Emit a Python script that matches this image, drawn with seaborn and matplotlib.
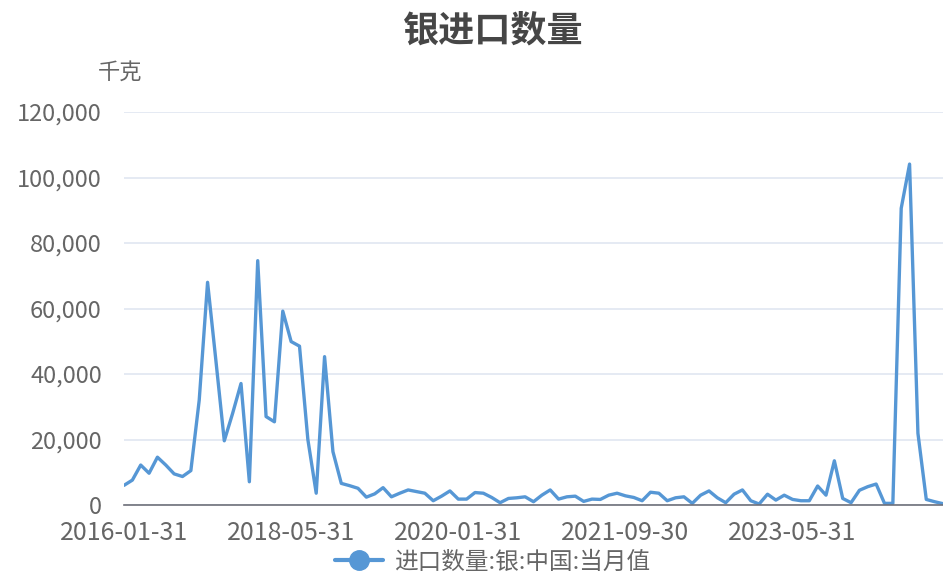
import matplotlib
matplotlib.use("Agg")
import matplotlib.pyplot as plt
import seaborn as sns
import pandas as pd
import numpy as np

# ---- data ----
early_dates = ["2016-01-31", "2016-03-31", "2016-04-30", "2016-06-30", "2016-07-31",
               "2016-09-30", "2016-10-31", "2016-12-31", "2017-01-31", "2017-03-31",
               "2017-04-30", "2017-06-30", "2017-07-31", "2017-09-30", "2017-10-31",
               "2017-11-30", "2017-12-31", "2018-01-31", "2018-03-31", "2018-04-30"]
later_dates = [d.strftime("%Y-%m-%d") for d in pd.date_range("2018-05-31", "2024-11-30", freq="ME")]
dates = early_dates + later_dates

values = [6000, 7600, 12200, 9700, 14600, 12200, 9500, 8700, 10500, 32000,
          68000, 44000, 19600, 28000, 37100, 7100, 74600, 27000, 25400, 59200,
          49900, 48500, 20000, 3600, 45300, 16300, 6600, 5900, 5100, 2400,
          3400, 5300, 2500, 3600, 4600, 4100, 3600, 1300, 2700, 4300,
          1800, 1800, 3800, 3600, 2300, 700, 2000, 2200, 2500, 1000,
          3000, 4600, 1800, 2500, 2700, 1100, 1800, 1700, 3000, 3600,
          2800, 2300, 1300, 3900, 3600, 1300, 2200, 2500, 500, 3000,
          4300, 2200, 700, 3300, 4600, 1300, 300, 3300, 1500, 3000,
          1700, 1300, 1300, 5800, 3000, 13500, 2000, 700, 4500, 5600,
          6400, 500, 500, 90600, 104100, 21900, 1700, 1000, 400]

series_name = "进口数量:银:中国:当月值"
title = "银进口数量"
unit = "千克"
y_ticks = [0, 20000, 40000, 60000, 80000, 100000, 120000]

df = pd.DataFrame({"idx": np.arange(len(values)), "date": dates, "value": values})

# ---- style ----
sns.set_theme(style="white")
plt.rcParams["font.family"] = ["Noto Sans CJK SC", "DejaVu Sans"]

line_color = "#5697D5"
text_color = "#666666"

fig = plt.figure(figsize=(9.43, 5.75), dpi=100)
ax = fig.add_axes([124 / 943, 1 - 505 / 575, 1 - 124 / 943, (505 - 112) / 575])

sns.lineplot(data=df, x="idx", y="value", ax=ax, color=line_color, linewidth=2.4,
             label=series_name, legend=False)

ax.set_xlim(0, len(values) - 1)
ax.set_ylim(0, 120000)
ax.set_yticks(y_ticks)
ax.set_yticklabels([f"{v:,}" for v in y_ticks], fontsize=17, color=text_color)
ax.yaxis.grid(True, color="#E0E6F1", linewidth=1.2)
ax.xaxis.grid(False)

tick_idx = [0, 20, 40, 60, 80]
ax.set_xticks(tick_idx)
ax.set_xticklabels([dates[i] for i in tick_idx], fontsize=18, color=text_color)
ax.tick_params(axis="x", direction="out", length=6, width=1.2, color="#6E7079", pad=5)
ax.tick_params(axis="y", length=0, pad=16)

for s in ["top", "right", "left"]:
    ax.spines[s].set_visible(False)
ax.spines["bottom"].set_color("#6E7079")
ax.spines["bottom"].set_linewidth(1.2)
ax.set_xlabel("")
ax.set_ylabel("")

fig.text(493 / 943, 1 - 31 / 575, title, ha="center", va="center",
         fontsize=26, fontweight="bold", color="#464646")
fig.text(120 / 943, 1 - 72 / 575, unit, ha="center", va="center",
         fontsize=16, color=text_color)

handle = plt.Line2D([], [], color=line_color, linewidth=3, marker="o",
                    markersize=14, markerfacecolor=line_color, markeredgecolor=line_color)
fig.legend([handle], [series_name], loc="center", bbox_to_anchor=(493 / 943, 1 - 562 / 575),
           frameon=False, fontsize=17, handlelength=2.0, handletextpad=0.5,
           labelcolor=text_color)

fig.savefig("out.png", dpi=100)
